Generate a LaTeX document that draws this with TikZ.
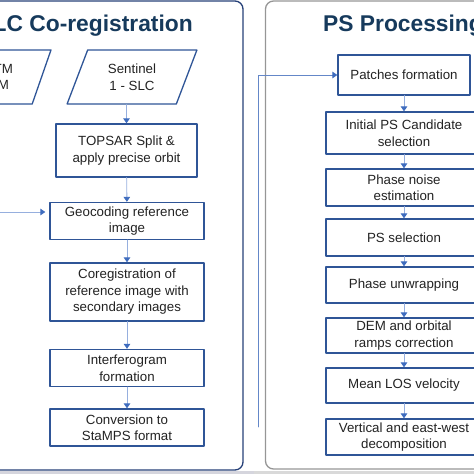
\documentclass[tikz,border=0pt]{standalone}
\usepackage{fontspec}
\setmainfont{Liberation Sans}
\usetikzlibrary{arrows.meta,shapes.geometric,positioning}
\definecolor{boxblue}{RGB}{47,85,151}
\definecolor{panelblue}{RGB}{38,64,120}
\definecolor{lineblue}{RGB}{150,175,222}
\definecolor{feedblue}{RGB}{100,135,200}
\definecolor{tipblue}{RGB}{62,108,190}
\definecolor{titleblue}{RGB}{22,58,92}
\definecolor{panelgrey}{RGB}{150,150,150}
\definecolor{txtgrey}{RGB}{35,35,35}
\begin{document}
\begin{tikzpicture}[x=1pt,y=-1pt,line join=round,line cap=round,
	stepbox/.style={draw=boxblue,line width=1.3pt,fill=white,align=center,text=txtgrey,
		font=\fontsize{13.3}{16.5}\selectfont,inner sep=0pt,minimum width=154pt,minimum height=37pt},
	datain/.style={stepbox,trapezium,trapezium left angle=67,trapezium right angle=113,
		trapezium stretches=true,minimum width=130pt,minimum height=54pt},
	flow/.style={draw=lineblue,line width=0.9pt,-{Triangle[length=5pt,width=6.5pt,color=tipblue]}},
	paneltitle/.style={font=\fontsize{22.8}{27}\selectfont\bfseries,text=titleblue,inner sep=0pt}]
	\useasboundingbox (0,0) rectangle (474,474);
	% panels
	\fill[blue!10!gray!30] (0,471) rectangle (254,474);
	\fill[gray!30] (254,471) rectangle (474,474);
	\draw[panelblue,line width=1.3pt,rounded corners=8pt] (-30,1) rectangle (243,470);
	\draw[panelgrey,line width=1.3pt,rounded corners=8pt] (265.5,1) rectangle (510,469);
	\node[paneltitle,anchor=base east] (lefttitle) at (193,31) {SLC Co-registration};
	\node[paneltitle,anchor=base west] (righttitle) at (323,31) {PS Processing};
	% SLC co-registration
	\node[datain] (dem) at (-14,77) {\hspace*{16.4pt}SRTM\\\hspace*{16.4pt}DEM};
	\node[datain] (sentinel) at (132,77) {Sentinel\\1 - SLC};
	\node[stepbox,minimum width=141pt,minimum height=53pt] (topsar) at (126.5,150.5) {TOPSAR Split \&\\apply precise orbit};
	\node[stepbox] (geo) at (127,221) {Geocoding reference\\image};
	\node[stepbox,minimum height=58pt] (coreg) at (127,292) {Coregistration of\\reference image with\\secondary images};
	\node[stepbox] (ifg) at (127,368) {Interferogram\\formation};
	\node[stepbox] (stamps) at (127,427.5) {Conversion to\\StaMPS format};
	\coordinate (demfeed) at (-5,212);
	\draw[flow] (sentinel.south -| topsar.north) -- (topsar.north);
	\draw[flow] (topsar) -- (geo);
	\draw[flow] (geo) -- (coreg);
	\draw[flow] (coreg) -- (ifg);
	\draw[flow] (ifg) -- (stamps);
	\draw[flow,shorten >=4pt] (demfeed) -- (demfeed -| geo.west);
	% PS processing
	\node[stepbox,minimum width=132pt,minimum height=40pt] (patches) at (404,75) {Patches formation};
	\node[stepbox,minimum width=156pt,minimum height=42pt] (initps) at (404,133) {Initial PS Candidate\\selection};
	\node[stepbox,minimum width=156pt] (noise) at (404,187.5) {Phase noise\\estimation};
	\node[stepbox,minimum width=156pt] (pssel) at (404,237.5) {PS selection};
	\node[stepbox,minimum width=156pt,minimum height=36pt] (unwrap) at (404,285) {Phase unwrapping};
	\node[stepbox,minimum width=156pt,minimum height=35pt] (ramps) at (404,335.5) {DEM and orbital\\ramps correction};
	\node[stepbox,minimum width=156pt,minimum height=35pt] (los) at (404,385.5) {Mean LOS velocity};
	\node[stepbox,minimum width=156pt,minimum height=36pt] (decomp) at (404,437) {Vertical and east-west\\decomposition};
	\coordinate (psfeed) at (258,427);
	\draw[flow,draw=feedblue] (psfeed) |- (patches.west);
	\draw[flow] (patches) -- (initps);
	\draw[flow] (initps) -- (noise);
	\draw[flow] (noise) -- (pssel);
	\draw[flow] (pssel) -- (unwrap);
	\draw[flow] (unwrap) -- (ramps);
	\draw[flow] (ramps) -- (los);
	\draw[flow] (los) -- (decomp);
\end{tikzpicture}
\end{document}
